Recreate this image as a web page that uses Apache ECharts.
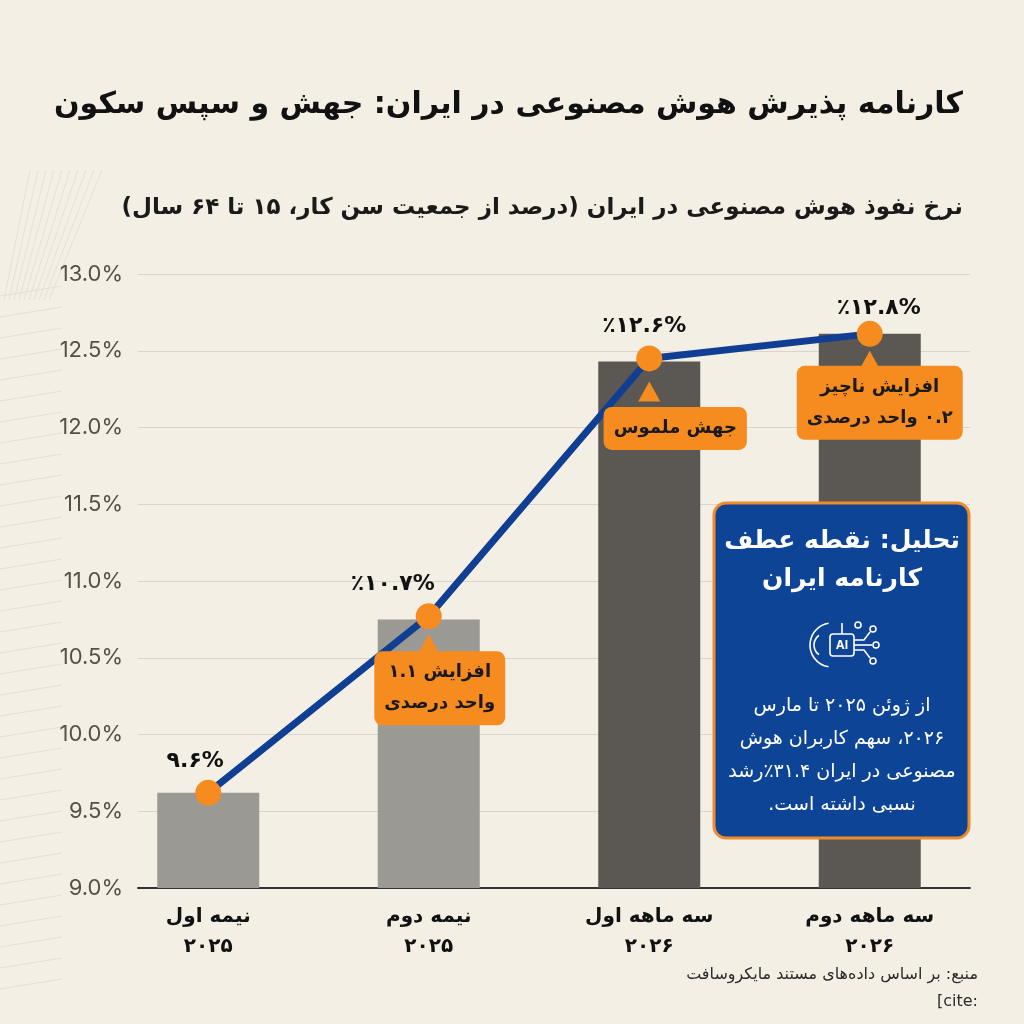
<!DOCTYPE html>
<html lang="fa" dir="rtl">
<head>
<meta charset="utf-8">
<script src="https://cdn.jsdelivr.net/npm/echarts@6/dist/echarts.min.js"></script>
<style>
html, body { margin: 0; padding: 0; background: #f3efe4; }
#main { width: 1024px; height: 1024px; }
</style>
</head>
<body>
<div id="main"></div>
<script>
// داده‌ها
var categories = ['نیمه اول\n۲۰۲۵', 'نیمه دوم\n۲۰۲۵', 'سه ماهه اول\n۲۰۲۶', 'سه ماهه دوم\n۲۰۲۶'];
var barValues = [9.62, 10.75, 12.43, 12.61];
var lineValues = [9.62, 10.77, 12.45, 12.61];
var pointLabels = ['۹.۶%', '٪۱۰.۷%', '٪۱۲.۶%', '٪۱۲.۸%'];
var calloutTexts = ['', 'افزایش ۱.۱\nواحد درصدی', 'جهش ملموس', 'افزایش ناچیز\n۰.۲ واحد درصدی'];
var yMin = 9, yMax = 13, yStep = 0.5;

var titleText = 'کارنامه پذیرش هوش مصنوعی در ایران: جهش و سپس سکون';
var subtitleText = 'نرخ نفوذ هوش مصنوعی در ایران (درصد از جمعیت سن کار، ۱۵ تا ۶۴ سال)';
var boxTitle = ['تحلیل: نقطه عطف', 'کارنامه ایران'];
var boxBody = ['از ژوئن ۲۰۲۵ تا مارس', '۲۰۲۶، سهم کاربران هوش', 'مصنوعی در ایران ۳۱.۴٪رشد', 'نسبی داشته است.'];
var sourceLines = ['منبع: بر اساس داده‌های مستند مایکروسافت', '[cite:'];

// چیدمان
var barColors = ['#9b9993', '#9b9993', '#5b5853', '#5b5853'];
var labelOffsets = [[-13, 0], [-36, 0], [-5, 0], [9, 6]];
var calloutOffsets = [[0, 0], [11, 72], [26, 70], [10, 69]];
var pointerOffsets = [[0, 0], [0, 28], [0, 33], [0, 27]];
var fa = "'DejaVu Sans', sans-serif";
var orange = '#f68b1f';

var myChart = echarts.init(document.getElementById('main'));

var calloutData = [], pointerData = [];
lineValues.forEach(function (v, i) {
    if (!calloutTexts[i]) {
        calloutData.push('-');
        pointerData.push('-');
        return;
    }
    calloutData.push({ value: v, label: { offset: calloutOffsets[i] } });
    pointerData.push({ value: v, symbolOffset: pointerOffsets[i] });
});

// خطوط تزئینی کناره چپ
var decoLines = [];
for (var k = 0; k < 34; k++) {
    var y0 = 290 + k * 21;
    decoLines.push({
        type: 'line', z: 0, silent: true,
        shape: { x1: 0, y1: y0 + 6, x2: 62, y2: y0 - 4 },
        style: { stroke: '#e4dfd3', lineWidth: 1 }
    });
}
for (var m = 0; m < 10; m++) {
    decoLines.push({
        type: 'line', z: 0, silent: true,
        shape: { x1: 4 + m * 5, y1: 300, x2: 30 + m * 8, y2: 170 },
        style: { stroke: '#e6e1d6', lineWidth: 1 }
    });
}

function boxEl(el) { el.z = 21; return el; }

var iconStroke = { fill: 'none', stroke: '#fff', lineWidth: 1.6 };
var boxGraphics = [
    { type: 'rect', z: 20, shape: { x: 714, y: 503, width: 255, height: 335, r: 12 },
      style: { fill: '#0e4496', stroke: '#ef8b2c', lineWidth: 3 } },
    { type: 'text', x: 842, y: 541,
      style: { text: boxTitle[0], fill: '#fff', font: 'bold 25px ' + fa, align: 'center', verticalAlign: 'middle' } },
    { type: 'text', x: 842, y: 579,
      style: { text: boxTitle[1], fill: '#fff', font: 'bold 25px ' + fa, align: 'center', verticalAlign: 'middle' } },
    { type: 'rect', shape: { x: 830, y: 634, width: 24, height: 22, r: 3 }, style: iconStroke },
    { type: 'text', x: 842, y: 645,
      style: { text: 'AI', fill: '#fff', font: 'bold 12px Inter', align: 'center', verticalAlign: 'middle' } },
    { type: 'arc', shape: { cx: 832, cy: 645, r: 22, startAngle: Math.PI * 0.55, endAngle: Math.PI * 1.45 }, style: iconStroke },
    { type: 'arc', shape: { cx: 826, cy: 645, r: 12, startAngle: Math.PI * 0.7, endAngle: Math.PI * 1.3 }, style: iconStroke },
    { type: 'polyline', shape: { points: [[854, 640], [864, 640], [870, 632]] }, style: iconStroke },
    { type: 'polyline', shape: { points: [[854, 650], [864, 650], [870, 658]] }, style: iconStroke },
    { type: 'line', shape: { x1: 854, y1: 645, x2: 872, y2: 645 }, style: iconStroke },
    { type: 'line', shape: { x1: 842, y1: 623, x2: 842, y2: 634 }, style: iconStroke },
    { type: 'circle', shape: { cx: 873, cy: 629, r: 3 }, style: iconStroke },
    { type: 'circle', shape: { cx: 876, cy: 645, r: 3 }, style: iconStroke },
    { type: 'circle', shape: { cx: 873, cy: 661, r: 3 }, style: iconStroke },
    { type: 'circle', shape: { cx: 858, cy: 625, r: 3 }, style: iconStroke }
].map(function (el, i) { return i === 0 ? el : boxEl(el); });

boxBody.forEach(function (t, i) {
    boxGraphics.push(boxEl({
        type: 'text', x: 842, y: 706 + i * 33,
        style: { text: t, fill: '#fff', font: '19px ' + fa, align: 'center', verticalAlign: 'middle' }
    }));
});

option = {
    backgroundColor: '#f3efe4',
    textStyle: { fontFamily: fa },
    title: [{
        text: titleText,
        right: 56, top: 85,
        textStyle: { fontSize: 30, fontWeight: 'bold', color: '#111', fontFamily: fa }
    }, {
        text: subtitleText,
        right: 56, top: 192,
        textStyle: { fontSize: 23, fontWeight: 'bold', color: '#1a1a1a', fontFamily: fa }
    }],
    grid: [
        { left: 138, right: 54, top: 274, bottom: 136 },
        { left: 98, right: 44, top: 274, bottom: 136 }
    ],
    xAxis: [{
        type: 'category', gridIndex: 0, data: categories,
        axisLine: { lineStyle: { color: '#333', width: 2 } },
        axisTick: { show: false }, axisLabel: { show: false }
    }, {
        type: 'category', gridIndex: 1, data: categories,
        axisLine: { show: false }, axisTick: { show: false },
        axisLabel: {
            margin: 14, fontSize: 20, fontWeight: 'bold', color: '#111',
            lineHeight: 30, fontFamily: fa
        }
    }],
    yAxis: [{
        type: 'value', gridIndex: 0, min: yMin, max: yMax, interval: yStep,
        axisLine: { show: false }, axisTick: { show: false },
        axisLabel: {
            margin: 15, fontSize: 22, color: '#55504a', fontFamily: 'Inter',
            formatter: function (v) { return v.toFixed(1) + '%'; }
        },
        splitLine: { lineStyle: { color: '#d9d5cc', width: 1 } }
    }, {
        type: 'value', gridIndex: 1, min: yMin, max: yMax, interval: yStep,
        show: false
    }],
    series: [{
        type: 'bar', xAxisIndex: 1, yAxisIndex: 1,
        data: barValues.map(function (v, i) {
            return { value: v, itemStyle: { color: barColors[i] } };
        }),
        barWidth: 102, z: 2
    }, {
        type: 'line', xAxisIndex: 1, yAxisIndex: 1, data: lineValues,
        lineStyle: { color: '#0f3e92', width: 7 },
        symbol: 'circle', symbolSize: 26,
        itemStyle: { color: orange },
        label: {
            show: true, position: 'top', distance: 8,
            fontSize: 22, fontWeight: 'bold', color: '#111', fontFamily: fa,
            formatter: function (p) { return pointLabels[p.dataIndex]; }
        },
        labelLayout: function (p) {
            var o = labelOffsets[p.dataIndex];
            return { x: p.labelRect.x + o[0], y: p.labelRect.y + o[1] };
        },
        z: 5
    }, {
        type: 'scatter', xAxisIndex: 1, yAxisIndex: 1, data: pointerData,
        symbol: 'triangle', symbolSize: [22, 20],
        itemStyle: { color: orange, opacity: 1 }, z: 6, silent: true
    }, {
        type: 'scatter', xAxisIndex: 1, yAxisIndex: 1, data: calloutData,
        symbol: 'rect', symbolSize: 1,
        itemStyle: { color: 'transparent', opacity: 1 },
        label: {
            show: true, position: 'inside',
            backgroundColor: orange, borderRadius: 8, padding: [6, 10],
            fontSize: 18, fontWeight: 'bold', color: '#1a1a1a', lineHeight: 31, fontFamily: fa,
            formatter: function (p) { return calloutTexts[p.dataIndex]; }
        },
        z: 7, silent: true
    }],
    graphic: decoLines.concat(boxGraphics).concat([{
        type: 'text', x: 978, y: 975,
        style: { text: sourceLines[0], fill: '#2b2b2b', font: '16px ' + fa, align: 'right', verticalAlign: 'middle' }
    }, {
        type: 'text', x: 978, y: 1002,
        style: { text: '\u200E' + sourceLines[1] + '\u200E', fill: '#2b2b2b', font: '16px ' + fa, align: 'right', verticalAlign: 'middle' }
    }])
};

myChart.setOption(option, true);
window.addEventListener('resize', function () {
    myChart.resize();
});
</script>
</body>
</html>
